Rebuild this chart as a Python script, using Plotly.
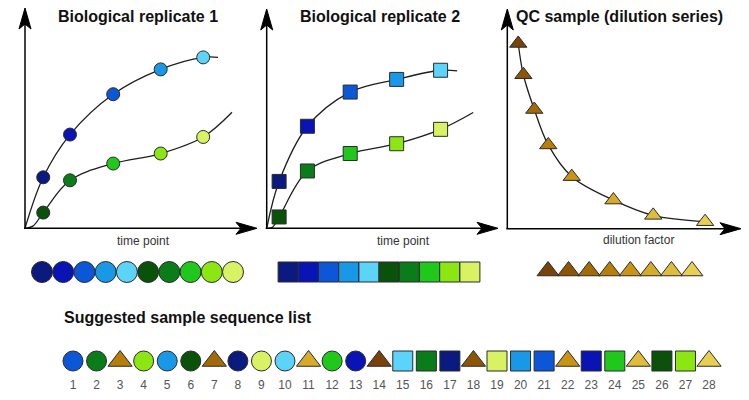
import plotly.graph_objects as go

W, H = 749, 400

# ---------------- data ----------------
# Biological replicate 1 (circles): time points and two response curves
r1_time = [0.81, 2.00, 3.92, 6.03, 7.92]
r1_blue = [2.34, 4.30, 6.15, 7.29, 7.84]
r1_green = [0.72, 2.20, 2.97, 3.43, 4.19]
r1_blue_fit_x = [0, 0.81, 2.00, 3.92, 6.03, 7.92, 8.58]
r1_blue_fit_y = [0, 2.34, 4.30, 6.15, 7.29, 7.84, 7.84]
r1_green_fit_x = [0, 0.35, 0.81, 2.00, 3.92, 6.03, 7.92, 9.20]
r1_green_fit_y = [0, 0.10, 0.72, 2.20, 2.97, 3.43, 4.19, 5.32]

# Biological replicate 2 (squares)
r2_time = [0.54, 1.77, 3.63, 5.65, 7.56]
r2_blue = [2.15, 4.68, 6.25, 6.83, 7.25]
r2_green = [0.52, 2.63, 3.43, 3.88, 4.54]
r2_blue_fit_x = [0, 0.54, 1.77, 3.63, 5.65, 7.56, 8.28]
r2_blue_fit_y = [0, 2.15, 4.68, 6.25, 6.83, 7.25, 7.22]
r2_green_fit_x = [0, 0.25, 0.54, 1.77, 3.63, 5.65, 7.56, 8.98]
r2_green_fit_y = [0, 0.05, 0.52, 2.63, 3.43, 3.88, 4.54, 5.31]

# QC sample dilution series (triangles)
qc_dilution = [0.47, 0.69, 1.16, 1.76, 2.77, 4.56, 6.27, 8.50]
qc_signal = [8.47, 7.04, 5.45, 3.83, 2.38, 1.31, 0.61, 0.32]

# colour shades
blue_shades = ["#0b1a7f", "#0a14b4", "#0c56d8", "#1898e6", "#5cd3f8"]
green_shades = ["#0a520a", "#0a7d1a", "#20c81c", "#8ce612", "#d8f264"]
qc_shades = ["#784208", "#8d5606", "#a36a08", "#b87e0c", "#c99414",
             "#d8aa2a", "#e0bc3c", "#e7cf54"]
rep_shades = blue_shades + green_shades

# suggested sample sequence: sample type and shade index
seq_number = list(range(1, 29))
seq_type = ["rep1", "rep1", "qc", "rep1", "rep1", "rep1", "qc", "rep1", "rep1", "rep1",
            "qc", "rep1", "rep1", "qc", "rep2", "rep2", "rep2", "qc", "rep2", "rep2",
            "rep2", "qc", "rep2", "rep2", "qc", "rep2", "rep2", "qc"]
seq_shade = [2, 6, 3, 8, 3, 5, 2, 0, 9, 4,
             5, 7, 1, 0, 4, 6, 0, 1, 9, 3,
             2, 4, 1, 7, 6, 5, 8, 7]

# ---------------- helpers ----------------
def dx(a, b):
    return [a / W, b / W]

def dy(top, bottom):
    return [1 - bottom / H, 1 - top / H]

def P(x, y):
    return f"{x / W:.5f},{1 - y / H:.5f}"

FONT = "Liberation Sans, Arial, sans-serif"
EDGE = dict(color="#2b2b2b", width=1)
CURVE = dict(color="#1e1e1e", width=1.3, shape="spline", smoothing=1.0)

fig = go.Figure()

def mk(symbol, size, color):
    return dict(symbol=symbol, size=size, color=color, line=EDGE, opacity=1)

# panel 1
fig.add_trace(go.Scatter(x=r1_blue_fit_x, y=r1_blue_fit_y, mode="lines", line=CURVE,
                         xaxis="x", yaxis="y", hoverinfo="skip"))
fig.add_trace(go.Scatter(x=r1_green_fit_x, y=r1_green_fit_y, mode="lines", line=CURVE,
                         xaxis="x", yaxis="y", hoverinfo="skip"))
fig.add_trace(go.Scatter(x=r1_time, y=r1_blue, mode="markers", xaxis="x", yaxis="y",
                         marker=mk("circle", 13, blue_shades), cliponaxis=False))
fig.add_trace(go.Scatter(x=r1_time, y=r1_green, mode="markers", xaxis="x", yaxis="y",
                         marker=mk("circle", 13, green_shades), cliponaxis=False))
# panel 2
fig.add_trace(go.Scatter(x=r2_blue_fit_x, y=r2_blue_fit_y, mode="lines", line=CURVE,
                         xaxis="x2", yaxis="y2", hoverinfo="skip"))
fig.add_trace(go.Scatter(x=r2_green_fit_x, y=r2_green_fit_y, mode="lines", line=CURVE,
                         xaxis="x2", yaxis="y2", hoverinfo="skip"))
fig.add_trace(go.Scatter(x=r2_time, y=r2_blue, mode="markers", xaxis="x2", yaxis="y2",
                         marker=mk("square", 14, blue_shades), cliponaxis=False))
fig.add_trace(go.Scatter(x=r2_time, y=r2_green, mode="markers", xaxis="x2", yaxis="y2",
                         marker=mk("square", 14, green_shades), cliponaxis=False))
# panel 3
fig.add_trace(go.Scatter(x=qc_dilution, y=qc_signal, mode="lines", line=CURVE,
                         xaxis="x3", yaxis="y3", hoverinfo="skip"))
fig.add_trace(go.Scatter(x=qc_dilution, y=qc_signal, mode="markers", xaxis="x3", yaxis="y3",
                         marker=mk("triangle-up", 15, qc_shades), cliponaxis=False))

# strips
fig.add_trace(go.Scatter(x=list(range(1, 11)), y=[0] * 10, mode="markers", xaxis="x4", yaxis="y4",
                         marker=mk("circle", 21, rep_shades), cliponaxis=False))
fig.add_trace(go.Scatter(x=list(range(1, 11)), y=[0] * 10, mode="markers", xaxis="x5", yaxis="y5",
                         marker=mk("square", 20, rep_shades), cliponaxis=False))
fig.add_trace(go.Scatter(x=list(range(1, 9)), y=[0] * 8, mode="markers", xaxis="x6", yaxis="y6",
                         marker=mk("triangle-up", 19, qc_shades), cliponaxis=False))

# sequence
sym_map = {"rep1": "circle", "rep2": "square", "qc": "triangle-up"}
seq_symbols = [sym_map[t] for t in seq_type]
seq_colors = [qc_shades[s] if t == "qc" else rep_shades[s] for t, s in zip(seq_type, seq_shade)]
seq_sizes = [21 if t == "qc" else 20 for t in seq_type]
fig.add_trace(go.Scatter(x=seq_number, y=[0] * 28, mode="markers", xaxis="x7", yaxis="y7",
                         marker=mk(seq_symbols, seq_sizes, seq_colors), cliponaxis=False))

hidden = dict(visible=False, fixedrange=True)
fig.update_layout(
    width=W, height=H, margin=dict(l=0, r=0, t=0, b=0),
    paper_bgcolor="white", plot_bgcolor="rgba(0,0,0,0)",
    showlegend=False,
    font=dict(family=FONT),
    xaxis=dict(domain=dx(25, 250), range=[0, 10], anchor="y", **hidden),
    yaxis=dict(domain=dy(10.3, 228.3), range=[0, 10], anchor="x", **hidden),
    xaxis2=dict(domain=dx(266.7, 496.7), range=[0, 10], anchor="y2", **hidden),
    yaxis2=dict(domain=dy(10.3, 228.3), range=[0, 10], anchor="x2", **hidden),
    xaxis3=dict(domain=dx(507.3, 740), range=[0, 10], anchor="y3", **hidden),
    yaxis3=dict(domain=dy(10, 228.7), range=[0, 10], anchor="x3", **hidden),
    xaxis4=dict(domain=dx(31.4, 243.6), range=[0.5, 10.5], anchor="y4", **hidden),
    yaxis4=dict(domain=dy(262, 282), range=[-1, 1], anchor="x4", **hidden),
    xaxis5=dict(domain=dx(278, 480), range=[0.5, 10.5], anchor="y5", **hidden),
    yaxis5=dict(domain=dy(262, 282), range=[-1, 1], anchor="x5", **hidden),
    xaxis6=dict(domain=dx(537.7, 702.3), range=[0.5, 8.5], anchor="y6", **hidden),
    yaxis6=dict(domain=dy(261, 281), range=[-1, 1], anchor="x6", **hidden),
    xaxis7=dict(domain=dx(61.2, 720.8), range=[0.5, 28.5], anchor="y7", visible=True,
                showline=False, showgrid=False, zeroline=False, ticks="",
                tickmode="array", tickvals=seq_number, ticktext=[str(n) for n in seq_number],
                tickfont=dict(size=12, color="#555555", family=FONT), fixedrange=True),
    yaxis7=dict(domain=dy(349, 376), range=[-1.25, 1], anchor="x7", **hidden),
)

# axes with arrows (decoration)
shapes = []
def axis_pair(ox, oy, xtip, ytip):
    shapes.append(dict(type="line", xref="paper", yref="paper",
                       x0=ox / W, y0=1 - oy / H, x1=ox / W, y1=1 - (ytip + 12) / H,
                       line=dict(color="black", width=1.5)))
    shapes.append(dict(type="line", xref="paper", yref="paper",
                       x0=(ox - 1) / W, y0=1 - oy / H, x1=(xtip - 12) / W, y1=1 - oy / H,
                       line=dict(color="black", width=1.5)))
    shapes.append(dict(type="path", xref="paper", yref="paper",
                       path=f"M{P(ox, ytip)} L{P(ox - 6, ytip + 21)} L{P(ox, ytip + 16)} L{P(ox + 6, ytip + 21)} Z",
                       fillcolor="black", line=dict(color="black", width=1)))
    shapes.append(dict(type="path", xref="paper", yref="paper",
                       path=f"M{P(xtip, oy)} L{P(xtip - 21, oy - 6)} L{P(xtip - 16, oy)} L{P(xtip - 21, oy + 6)} Z",
                       fillcolor="black", line=dict(color="black", width=1)))

axis_pair(25, 228.3, 257, 8)
axis_pair(266.7, 228.3, 498, 9)
axis_pair(507.3, 228.7, 741, 9)
fig.update_layout(shapes=shapes)

ann = []
def text(x, y, t, size, color="#111111", bold=False, xanchor="center"):
    ann.append(dict(x=x / W, y=1 - y / H, xref="paper", yref="paper", showarrow=False,
                    text=f"<b>{t}</b>" if bold else t, xanchor=xanchor, yanchor="middle",
                    font=dict(size=size, color=color, family=FONT)))

text(137.5, 17, "Biological replicate 1", 16, bold=True)
text(380, 16, "Biological replicate 2", 16, bold=True)
text(619, 16, "QC sample (dilution series)", 16, bold=True)
text(143.5, 241, "time point", 12, color="#333333")
text(403, 241, "time point", 12, color="#333333")
text(638, 240, "dilution factor", 12, color="#333333")
text(62, 317, "Suggested sample sequence list", 16, bold=True, xanchor="left")
fig.update_layout(annotations=ann)

fig.write_html("out.html", config={"staticPlot": True},
               post_script="document.body.style.margin='0';")
